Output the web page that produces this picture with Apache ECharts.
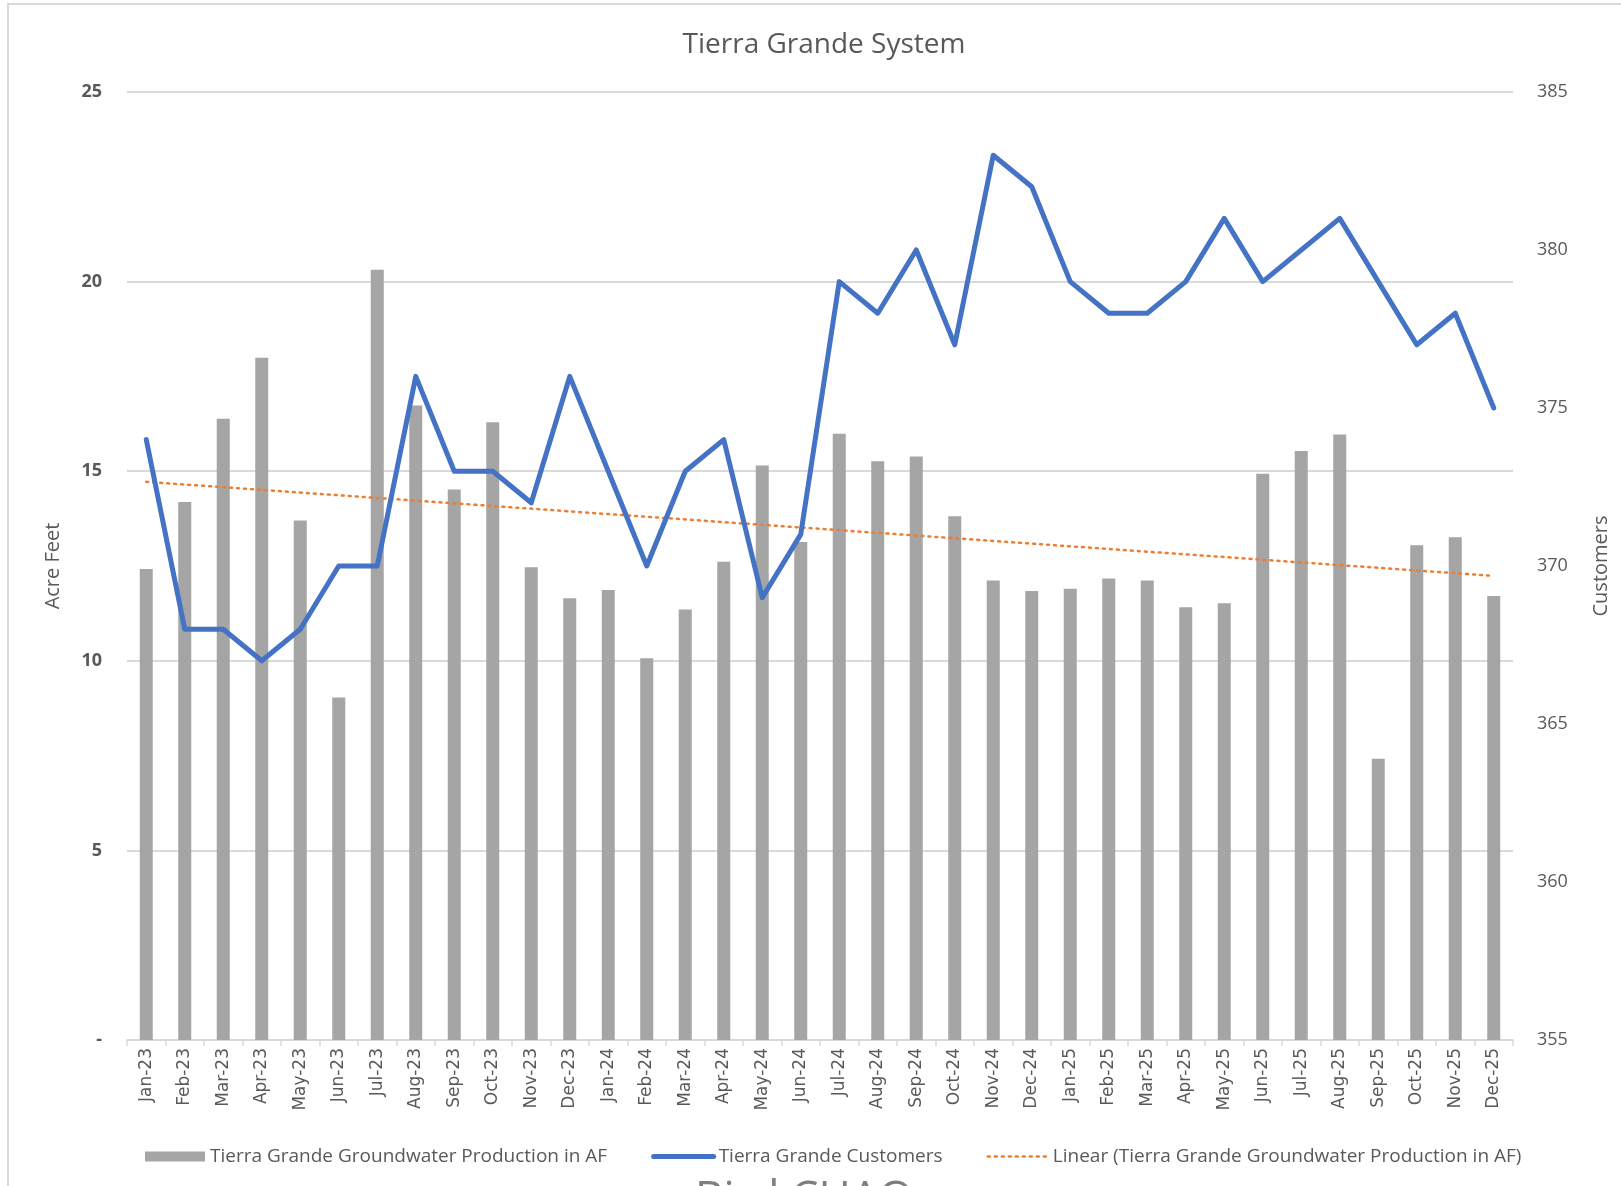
<!DOCTYPE html>
<html>
<head>
<meta charset="utf-8">
<script src="https://cdn.jsdelivr.net/npm/echarts@6/dist/echarts.min.js"></script>
<style>
  html, body { margin: 0; padding: 0; background: #fff; }
  #chart { width: 1621px; height: 1186px; }
</style>
</head>
<body>
<div id="chart"></div>
<script>
const months = [
  'Jan-23', 'Feb-23', 'Mar-23', 'Apr-23', 'May-23', 'Jun-23', 'Jul-23', 'Aug-23', 'Sep-23', 'Oct-23', 'Nov-23', 'Dec-23',
  'Jan-24', 'Feb-24', 'Mar-24', 'Apr-24', 'May-24', 'Jun-24', 'Jul-24', 'Aug-24', 'Sep-24', 'Oct-24', 'Nov-24', 'Dec-24',
  'Jan-25', 'Feb-25', 'Mar-25', 'Apr-25', 'May-25', 'Jun-25', 'Jul-25', 'Aug-25', 'Sep-25', 'Oct-25', 'Nov-25', 'Dec-25'
];

// acre feet pumped each month
const production = [
  12.42, 14.19, 16.38, 17.99, 13.70, 9.03, 20.31, 16.73, 14.52, 16.29, 12.47, 11.65,
  11.87, 10.07, 11.35, 12.61, 15.15, 13.13, 15.99, 15.26, 15.39, 13.81, 12.12, 11.84,
  11.90, 12.17, 12.12, 11.41, 11.52, 14.93, 15.53, 15.97, 7.42, 13.05, 13.26, 11.71
];

const customers = [
  374, 368, 368, 367, 368, 370, 370, 376, 373, 373, 372, 376,
  373, 370, 373, 374, 369, 371, 379, 378, 380, 377, 383, 382,
  379, 378, 378, 379, 381, 379, 380, 381, 379, 377, 378, 375
];

// excel trendline, only the two ends
const trendEnds = { first: 14.72, last: 12.24 };

const leftTicks = [0, 5, 10, 15, 20, 25];
const rightTicks = [355, 360, 365, 370, 375, 380, 385];

const trend = months.map((m, i) => {
  if (i === 0) return trendEnds.first;
  if (i === months.length - 1) return trendEnds.last;
  return null;
});

const textColor = '#595959';
const gridColor = '#d9d9d9';
const font = '"Open Sans", "Noto Sans", sans-serif';
const noSymbol = { color: 'rgba(0,0,0,0)', borderColor: 'rgba(0,0,0,0)', borderWidth: 0, opacity: 0 };

const chart = echarts.init(document.getElementById('chart'));

const option = {
  backgroundColor: '#fff',
  animation: false,
  title: {
    text: 'Bird CHAO',
    left: 690,
    top: 1172,
    textStyle: { color: '#7f7f7f', fontFamily: font, fontSize: 44, fontWeight: 'normal' }
  },
  graphic: [
    {
      type: 'rect',
      shape: { x: 8, y: 4, width: 1640, height: 1200 },
      style: { fill: null, stroke: gridColor, lineWidth: 2 },
      silent: true
    },
    {
      type: 'text',
      x: 824,
      y: 45,
      style: {
        text: 'Tierra Grande System',
        fill: textColor,
        font: '28px "Open Sans", "Noto Sans", sans-serif',
        align: 'center',
        verticalAlign: 'middle'
      },
      silent: true
    }
  ],
  legend: {
    left: 140,
    top: 1142,
    itemGap: 44,
    itemWidth: 60,
    itemHeight: 10,
    textStyle: { color: textColor, fontFamily: font, fontSize: 19 },
    data: [
      { name: 'Tierra Grande Groundwater Production in AF', icon: 'rect' },
      {
        name: 'Tierra Grande Customers',
        itemStyle: noSymbol,
        lineStyle: { color: '#4472c4', width: 5, cap: 'round' }
      },
      {
        name: 'Linear (Tierra Grande Groundwater Production in AF)',
        itemStyle: noSymbol,
        lineStyle: { color: '#ed7d31', width: 2.5, type: [2, 5], cap: 'round' }
      }
    ]
  },
  grid: { left: 127, right: 108, top: 92, bottom: 146 },
  xAxis: {
    type: 'category',
    data: months,
    boundaryGap: true,
    axisLine: { lineStyle: { color: gridColor, width: 1.5 } },
    axisTick: { show: true, length: 6, interval: 0, lineStyle: { color: gridColor, width: 1.5 } },
    axisLabel: {
      interval: 0,
      rotate: 90,
      margin: 8,
      color: textColor,
      fontFamily: '"DejaVu Sans", sans-serif',
      fontSize: 17
    }
  },
  yAxis: [
    {
      type: 'value',
      min: leftTicks[0],
      max: leftTicks[leftTicks.length - 1],
      interval: 5,
      name: 'Acre Feet',
      nameLocation: 'middle',
      nameRotate: 90,
      nameGap: 64,
      nameTextStyle: { color: textColor, fontFamily: font, fontSize: 20 },
      axisLine: { show: false },
      axisTick: { show: false },
      splitLine: { lineStyle: { color: gridColor, width: 2 } },
      axisLabel: {
        margin: 25,
        color: textColor,
        fontFamily: font,
        fontSize: 18,
        fontWeight: 'bold',
        formatter: v => (v === 0 ? '-' : String(v))
      }
    },
    {
      type: 'value',
      min: rightTicks[0],
      max: rightTicks[rightTicks.length - 1],
      interval: 5,
      position: 'right',
      name: 'Customers',
      nameLocation: 'middle',
      nameRotate: 90,
      nameGap: 78,
      nameTextStyle: { color: textColor, fontFamily: font, fontSize: 20 },
      axisLine: { show: false },
      axisTick: { show: false },
      splitLine: { show: false },
      axisLabel: {
        margin: 24,
        color: textColor,
        fontFamily: font,
        fontSize: 18
      }
    }
  ],
  series: [
    {
      name: 'Tierra Grande Groundwater Production in AF',
      type: 'bar',
      yAxisIndex: 0,
      data: production,
      barWidth: 13,
      itemStyle: { color: '#a5a5a5' },
      z: 2
    },
    {
      name: 'Tierra Grande Customers',
      type: 'line',
      yAxisIndex: 1,
      data: customers,
      symbol: 'none',
      lineStyle: { color: '#4472c4', width: 5, cap: 'round', join: 'round' },
      itemStyle: { color: '#4472c4' },
      z: 4
    },
    {
      name: 'Linear (Tierra Grande Groundwater Production in AF)',
      type: 'line',
      yAxisIndex: 0,
      data: trend,
      connectNulls: true,
      symbol: 'none',
      lineStyle: { color: '#ed7d31', width: 2.5, type: [2, 5], cap: 'round' },
      itemStyle: { color: '#ed7d31' },
      z: 3
    }
  ]
};

chart.setOption(option);
window.addEventListener('resize', () => chart.resize());
</script>
</body>
</html>
